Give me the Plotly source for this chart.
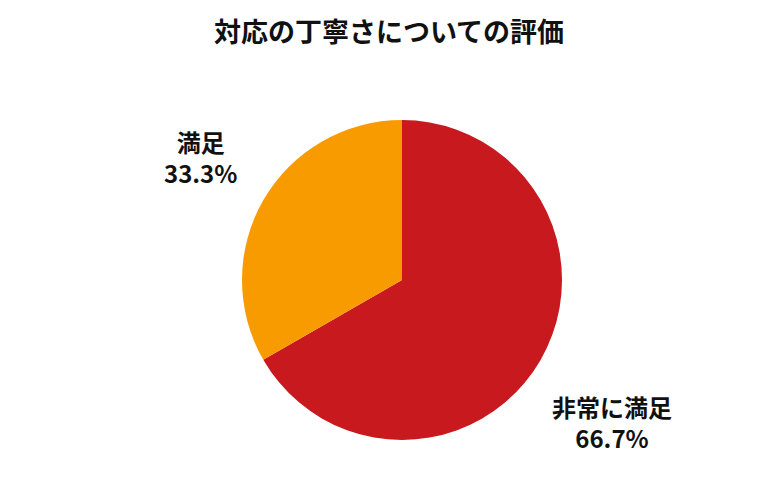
import plotly.graph_objects as go

labels = ["非常に満足", "満足"]
values = [66.7, 33.3]
colors = ["#C8191F", "#F89B00"]

# label block centres in pixels (layout only)
label_pos = {"非常に満足": (604, 414), "満足": (192, 149)}
W, H = 780, 500

fig = go.Figure(
    go.Pie(
        labels=labels,
        values=values,
        sort=False,
        direction="clockwise",
        rotation=0,
        marker=dict(colors=colors, line=dict(color="white", width=0)),
        textinfo="none",
        hoverinfo="label+percent",
        showlegend=False,
        domain=dict(x=[234 / W, 554 / W], y=[68 / H, 388 / H]),
    )
)

total = sum(values)
for lab, val in zip(labels, values):
    px, py = label_pos[lab]
    fig.add_annotation(
        text=f"<b>{lab}<br>{val / total * 100:.1f}%</b>",
        x=px / W,
        y=1 - py / H,
        xref="paper",
        yref="paper",
        xanchor="center",
        yanchor="middle",
        align="center",
        showarrow=False,
        font=dict(size=24, color="#111111"),
    )

fig.update_layout(
    title=dict(
        text="<b>対応の丁寧さについての評価</b>",
        x=0.5 - 9 / W,
        xanchor="center",
        y=1 - 25 / H,
        yanchor="middle",
        font=dict(size=27, color="#111111"),
    ),
    font=dict(family="Noto Sans CJK JP"),
    width=W,
    height=H,
    margin=dict(l=0, r=0, t=0, b=0),
    paper_bgcolor="white",
    plot_bgcolor="white",
)

fig.write_html("out.html")
